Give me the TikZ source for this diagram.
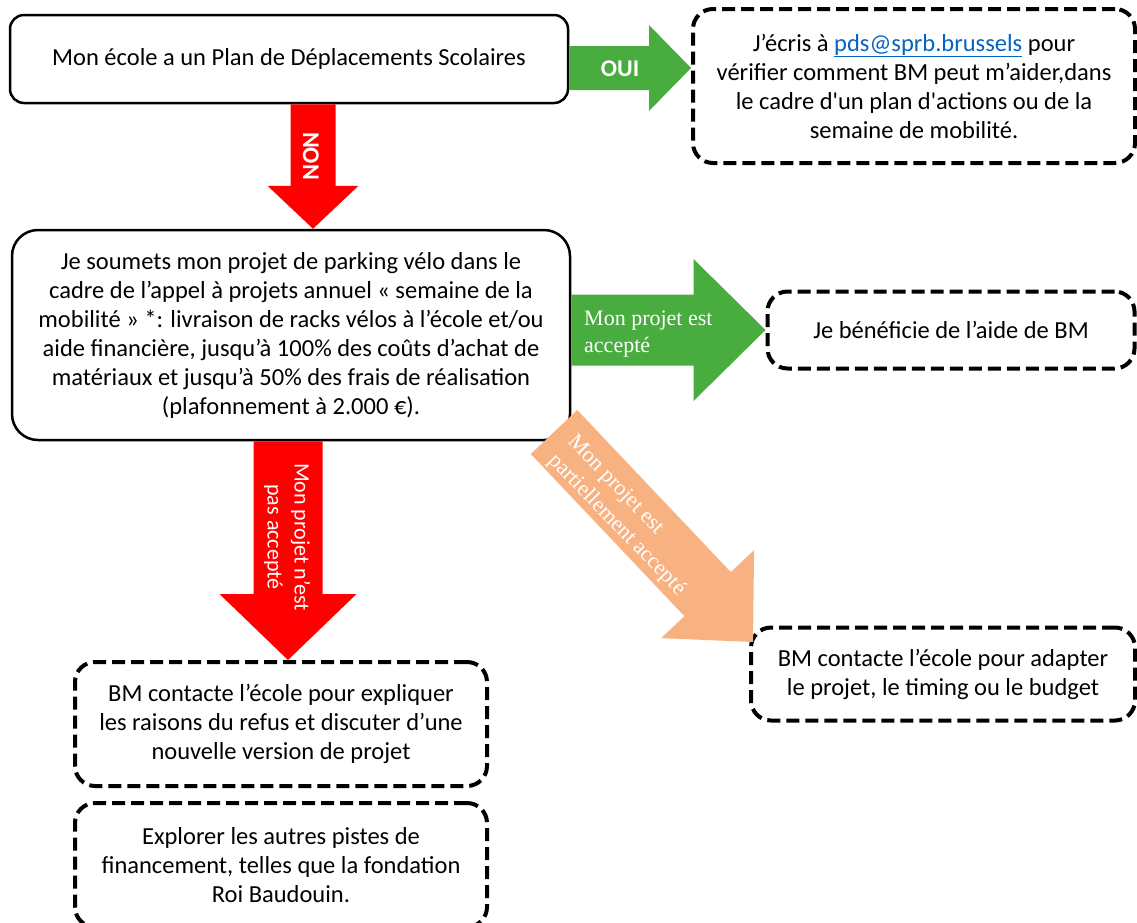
\documentclass[tikz,border=0pt]{standalone}
\usepackage{fontspec}
\setmainfont{Carlito}[Ligatures=TeXOff]
\newfontfamily\timesfont{Liberation Serif}
\usepackage{xcolor}
\usetikzlibrary{calc,positioning}
\definecolor{okGreen}{RGB}{72,172,62}
\definecolor{noRed}{RGB}{255,0,0}
\definecolor{partOrange}{RGB}{248,178,130}
\definecolor{linkBlue}{RGB}{5,99,193}
\tikzset{
    solidbox/.style={
        draw,
        line width=2.5pt,
        rounded corners=14pt,
        align=center,
        font=\fontsize{24.5}{29}\selectfont
    },
    dashbox/.style={
        draw,
        line width=4pt,
        dash pattern=on 13pt off 6pt,
        rounded corners=20pt,
        align=center,
        font=\fontsize{24.5}{29}\selectfont
    },
    arrowlabel/.style={
        text=white,
        inner sep=0pt
    }
}
% block arrow: colour, start, tip, half shaft, half head, head length
\newcommand{\blockarrow}[6]{%
    \coordinate (hb) at ($(#3)!#6!(#2)$);
    \fill[#1] ($(#2)!#4!90:(#3)$) -- ($(hb)!#4!-90:(#2)$) -- ($(hb)!#5!-90:(#2)$)
        -- (#3) -- ($(hb)!#5!90:(#2)$) -- ($(hb)!#4!90:(#2)$) -- ($(#2)!#4!-90:(#3)$) -- cycle;
}

\begin{document}
\begin{tikzpicture}[x=1pt, y=-1pt]
    \useasboundingbox (0,0) rectangle (1137,922);
    \clip (0,0) rectangle (1137,922);

    % 1. Les cases
    \node[solidbox, minimum width=558pt, minimum height=88pt] (plan) at (289,59) {Mon école a un Plan de Déplacements Scolaires};
    \node[dashbox, minimum width=442pt, minimum height=154pt] (oui) at (914,86) {J’écris à {\color{linkBlue}\underline{pds@sprb.brussels}} pour\\vérifier comment BM peut m’aider,dans\\le cadre d'un plan d'actions ou de la\\semaine de mobilité.};
    \node[solidbox, rounded corners=26pt, minimum width=558pt, minimum height=210pt] (submit) at (291,335) {Je soumets mon projet de parking vélo dans le\\cadre de l’appel à projets annuel « semaine de la\\mobilité » *: livraison de racks vélos à l’école et/ou\\aide financière, jusqu’à 100\% des coûts d’achat de\\matériaux et jusqu’à 50\% des frais de réalisation\\(plafonnement à 2.000 €).};
    \node[dashbox, minimum width=367pt, minimum height=77pt] (accept) at (951,330) {Je bénéficie de l’aide de BM};
    \node[dashbox, minimum width=384pt, minimum height=93pt] (partial) at (943,674) {BM contacte l’école pour adapter\\le projet, le timing ou le budget};
    \node[dashbox, minimum width=412pt, minimum height=124pt] (refuse) at (281,724) {BM contacte l’école pour expliquer\\les raisons du refus et discuter d’une\\nouvelle version de projet};
    \node[dashbox, minimum width=412pt, minimum height=124pt] (explore) at (281,865) {Explorer les autres pistes de\\financement, telles que la fondation\\Roi Baudouin.};

    % 2. Les flèches
    \coordinate (ouiA) at (plan.east |- 0,68);
    \coordinate (ouiB) at (oui.west |- 0,68);
    \blockarrow{okGreen}{ouiA}{ouiB}{22pt}{43pt}{42pt}
    \coordinate (nonA) at (313,0 |- plan.south);
    \coordinate (nonB) at (313,0 |- submit.north);
    \blockarrow{noRed}{nonA}{nonB}{22.5pt}{45.5pt}{43pt}
    \coordinate (accA) at (submit.east |- accept.west);
    \blockarrow{okGreen}{accA}{accept.west}{35.5pt}{71pt}{72pt}
    \coordinate (refA) at (288,0 |- submit.south);
    \coordinate (refB) at (288,0 |- refuse.north);
    \blockarrow{noRed}{refA}{refB}{34.5pt}{68.5pt}{66pt}
    \coordinate (partA) at (554,432);
    \coordinate (partB) at (753,642);
    \blockarrow{partOrange}{partA}{partB}{32pt}{64pt}{66pt}

    % 3. Les étiquettes
    \node[arrowlabel, font=\bfseries\fontsize{24}{29}\selectfont] (ouiLbl) at (620,69) {OUI};
    \node[arrowlabel, font=\bfseries\fontsize{24}{29}\selectfont, rotate=-90] (nonLbl) at (311,156) {NON};
    \node[arrowlabel, font=\timesfont\fontsize{22}{27}\selectfont, align=left, anchor=west] (accLbl) at (584,334) {Mon projet est\\accepté};
    \node[arrowlabel, font=\timesfont\fontsize{22}{27}\selectfont, align=left, rotate=-46] (partLbl) at (626,516) {Mon projet est\\partiellement accepté};
    \node[arrowlabel, font=\fontsize{22}{27}\selectfont, align=center, rotate=-90] (refLbl) at (287,537) {Mon projet n’est\\pas accepté};
\end{tikzpicture}
\end{document}
